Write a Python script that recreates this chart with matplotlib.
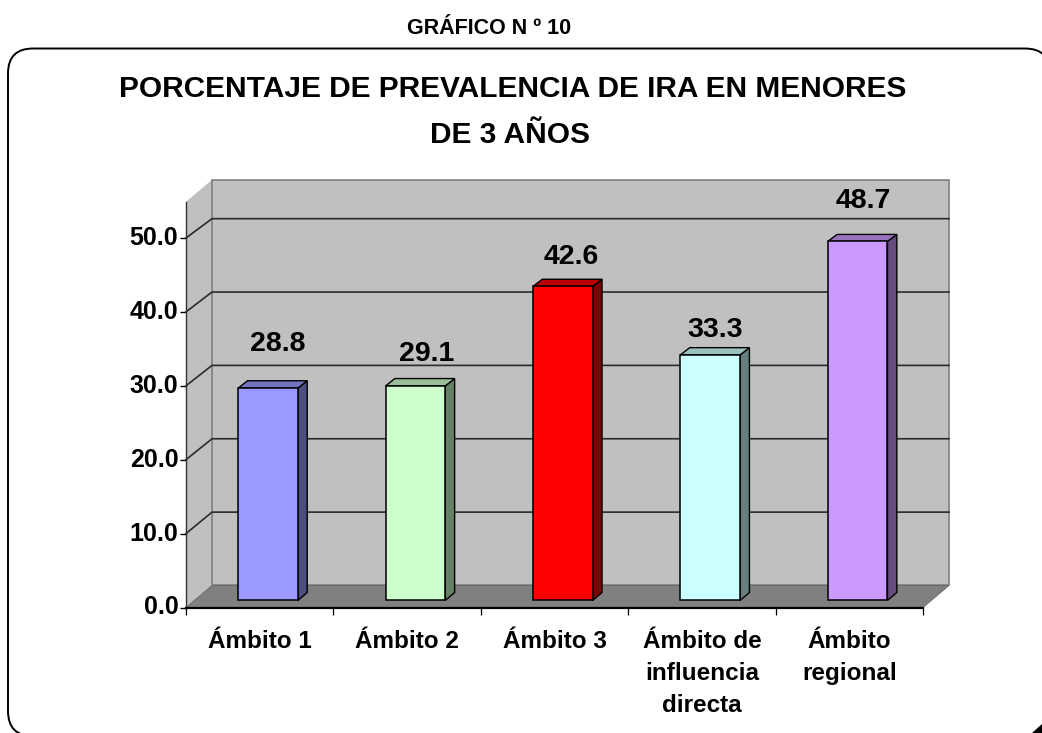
import matplotlib
matplotlib.use("Agg")
import matplotlib.pyplot as plt
from matplotlib.patches import FancyBboxPatch, Polygon

# datos del grafico
categories = ["Ámbito 1", "Ámbito 2", "Ámbito 3", "Ámbito de\ninfluencia\ndirecta", "Ámbito\nregional"]
values = [28.8, 29.1, 42.6, 33.3, 48.7]
y_ticks = [0, 10, 20, 30, 40, 50]
face_colors = ["#9999FF", "#CCFFCC", "#FF0000", "#CCFFFF", "#CC99FF"]
top_colors = ["#7373BF", "#99BF99", "#BF0000", "#99BFBF", "#9973BF"]
side_colors = ["#4D4D80", "#668066", "#800000", "#668080", "#664D80"]
label_offsets_x = [3.5, 5, 3, 0, 1]
label_offsets_y = [26.5, 18, 16, 13, 24]

W, H = 1042, 733
plt.rcParams["font.family"] = ["Liberation Sans", "DejaVu Sans"]
plt.rcParams["font.weight"] = "bold"

# profundidad 3D en unidades de datos
DX = 26 / 147.4
DY = 2.98
BACK_SCALE = 0.9927
BAR_W = 0.405
F0, F1 = 0.32, 0.68
Y_MAX = 55.0


def proj(x, v, f):
    return x + f * DX, v * (1 - (1 - BACK_SCALE) * f) + f * DY


def poly(points, **kw):
    xs = [p[0] for p in points]
    ys = [p[1] for p in points]
    ax.fill(xs, ys, clip_on=False, **kw)


fig = plt.figure(figsize=(W / 100, H / 100), dpi=100, facecolor="white")

# marco redondeado, se sale un poco de la imagen
bg = fig.add_axes([0, 0, 1, 1])
bg.set_xlim(0, W)
bg.set_ylim(H, 0)
bg.axis("off")
bg.add_patch(FancyBboxPatch((33, 73.5), 992, 637.5, boxstyle="round,pad=25,rounding_size=25",
                            fc="white", ec="black", lw=1.4, clip_on=False))
bg.add_patch(Polygon([(1042, 724), (1042, 733), (1032, 733)], fc="black", ec="none"))
bg.text(489, 29, "GRÁFICO N º 10", ha="center", va="center", fontsize=15.5)
bg.text(512.5, 89, "PORCENTAJE DE PREVALENCIA DE IRA EN MENORES", ha="center", va="center", fontsize=21.5)
bg.text(510, 135, "DE 3 AÑOS", ha="center", va="center", fontsize=21.5)

ax = fig.add_axes([186 / W, (H - 607.5) / H, 737 / W, 7.39 * Y_MAX / H])
ax.patch.set_alpha(0)
ax.set_xlim(0, len(values))
ax.set_ylim(0, Y_MAX)
for side in ["top", "right"]:
    ax.spines[side].set_visible(False)
ax.spines["bottom"].set_linewidth(1.6)
ax.spines["left"].set_linewidth(1.0)
ax.spines["left"].set_color("#333333")
ax.spines["left"].set_bounds(0, 54.9)

n = len(values)
top_back = 55.3

# paredes y piso
poly([proj(0, 0, 0), proj(0, 0, 1), proj(0, top_back, 1), (0, 54.9)], fc="#C0C0C0", ec="none", zorder=0)
poly([proj(0, 0, 1), proj(n, 0, 1), proj(n, top_back, 1), proj(0, top_back, 1)], fc="#C0C0C0", ec="#808080", lw=1.2, zorder=0)
for t in y_ticks[1:]:
    xb, yb = proj(0, t, 1)
    xe, ye = proj(n, t, 1)
    ax.plot([0, xb, xe], [t, yb, ye], color="#2A2A2A", lw=1.2, clip_on=False, zorder=1)
poly([proj(0, 0, 0), proj(n, 0, 0), proj(n, 0, 1), proj(0, 0, 1)], fc="#808080", ec="#666666", lw=0.6, zorder=2)

# barras
for i, v in enumerate(values):
    cx = i + 0.5
    x0f, y0f = proj(cx - BAR_W / 2, 0, F0)
    x1f, _ = proj(cx + BAR_W / 2, 0, F0)
    topf = proj(cx, v, F0)[1]
    ax.bar(x0f, topf - y0f, width=x1f - x0f, bottom=y0f, align="edge", color=face_colors[i],
           edgecolor="black", linewidth=1.1, clip_on=False, zorder=4)
    x0b, _ = proj(cx - BAR_W / 2, 0, F1)
    x1b, y0b = proj(cx + BAR_W / 2, 0, F1)
    topb = proj(cx, v, F1)[1]
    poly([(x1f, y0f), (x1b, y0b), (x1b, topb), (x1f, topf)], fc=side_colors[i], ec="black", lw=1.0, zorder=3)
    poly([(x0f, topf), (x1f, topf), (x1b, topb), (x0b, topb)], fc=top_colors[i], ec="black", lw=1.0, zorder=3)
    ax.annotate(f"{v:.1f}", xy=((x0f + x1b) / 2, topb), xytext=(label_offsets_x[i], label_offsets_y[i]),
                textcoords="offset points", ha="center", va="center", fontsize=20.5, zorder=6, annotation_clip=False)

ax.set_yticks(y_ticks)
ax.set_yticklabels([f"{t:.1f}" for t in y_ticks], fontsize=18, va="center")
ax.tick_params(axis="y", length=4.5, width=1.0, pad=1)
ax.set_xticks(range(n + 1))
ax.set_xticklabels([""] * (n + 1))
ax.tick_params(axis="x", length=5, width=0.9)
for i, name in enumerate(categories):
    ax.annotate(name, xy=(i + 0.5, 0), xytext=(0, -16.5), textcoords="offset points", ha="center", va="top",
                fontsize=17.5, linespacing=1.5, annotation_clip=False)

fig.savefig("out.png", dpi=100)
